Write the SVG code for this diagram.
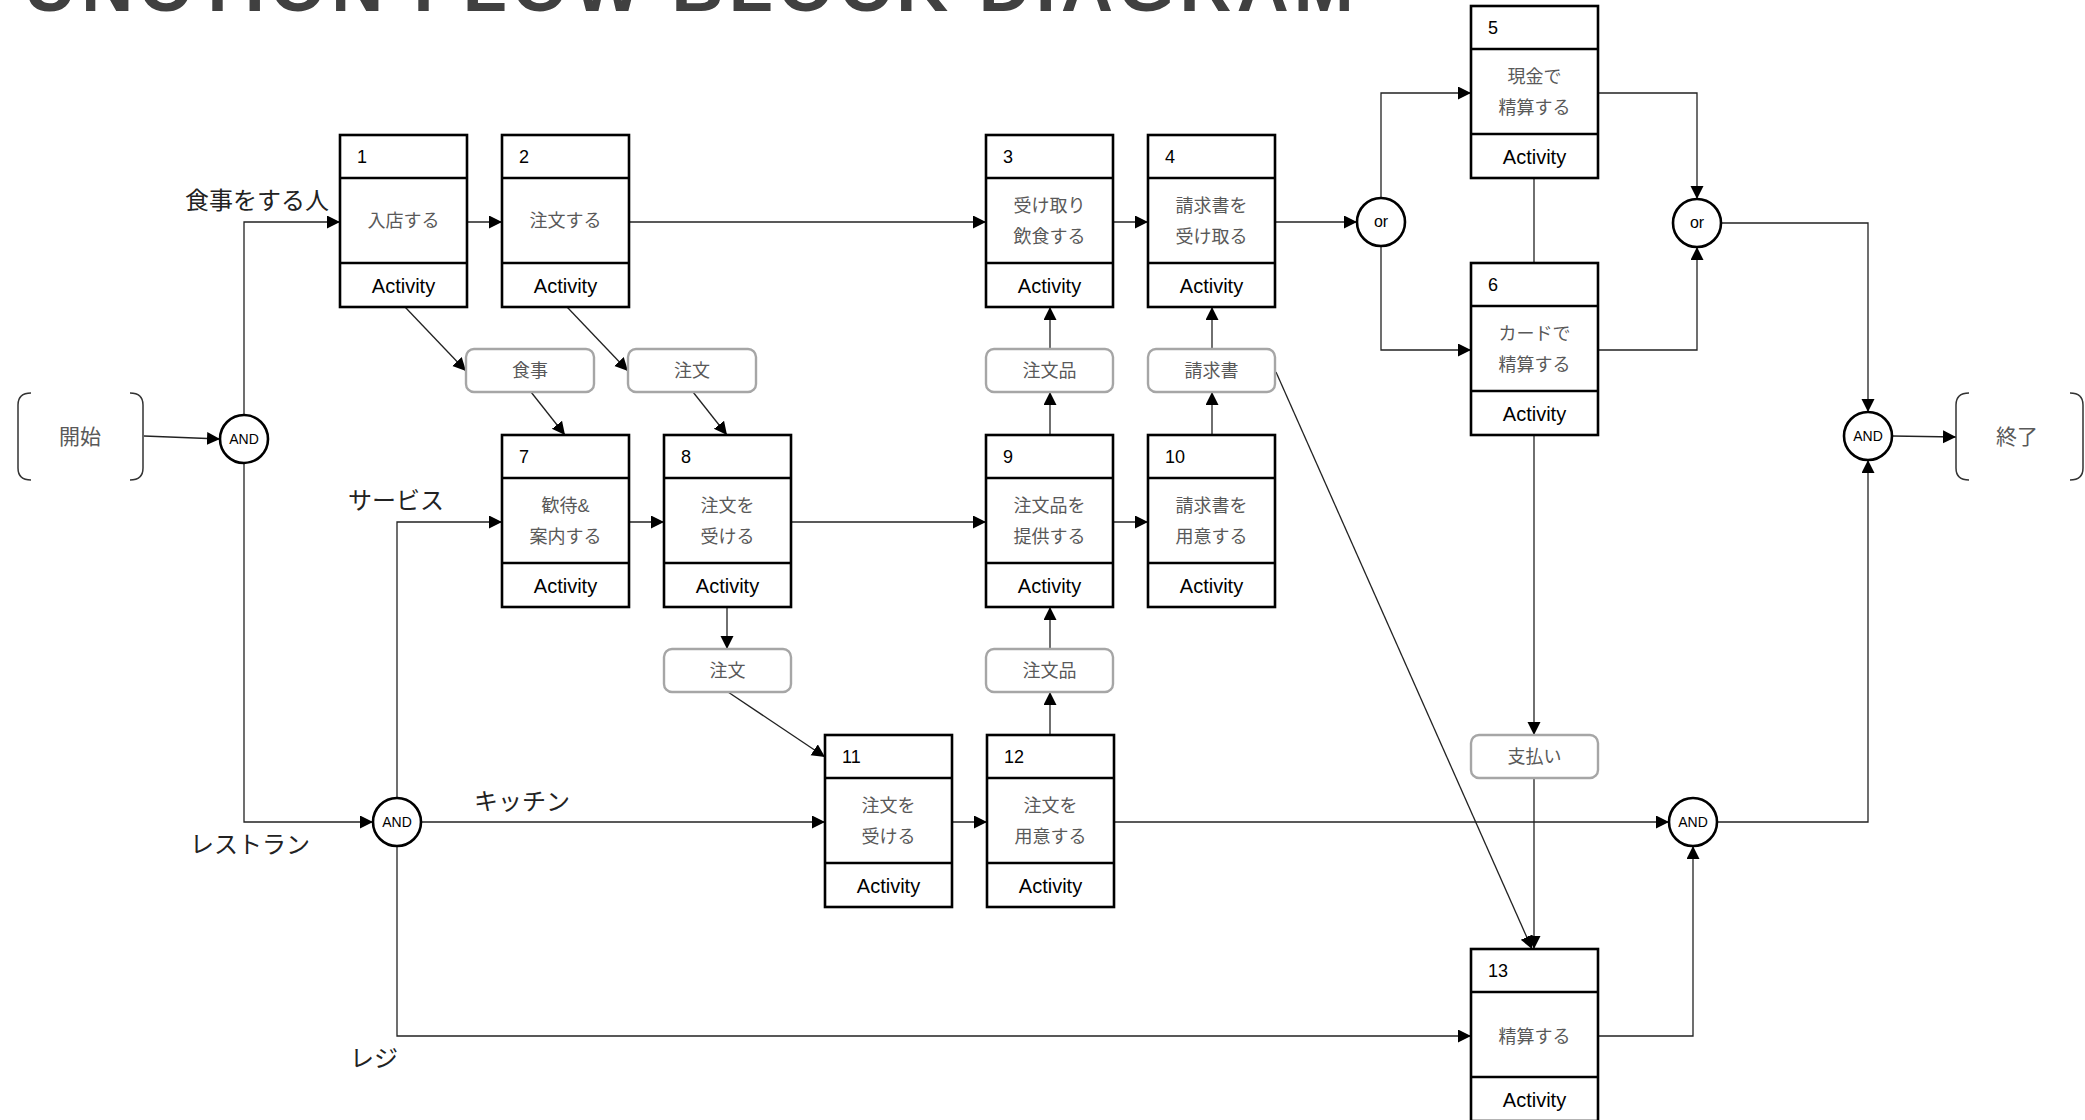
<svg xmlns="http://www.w3.org/2000/svg" width="2085" height="1120" viewBox="0 0 2085 1120">
<style>
text{font-family:"Liberation Sans","Noto Sans CJK JP",sans-serif}
.title{font-size:72px;font-weight:bold;fill:#404040;letter-spacing:5.2px}
.box{fill:#fff;stroke:#000;stroke-width:2.6}
.sep{stroke:#000;stroke-width:2.6}
.num{font-size:18px;fill:#000}
.body{font-size:18px;fill:#595959;text-anchor:middle}
.act{font-size:20px;fill:#000;text-anchor:middle}
.data{fill:#fff;stroke:#a6a6a6;stroke-width:2.4}
.gate{fill:#fff;stroke:#000;stroke-width:2.6}
.gt{font-size:14px;fill:#000;text-anchor:middle}
.lane{font-size:24px;fill:#222}
.term{fill:none;stroke:#333;stroke-width:1.5}
.tt{font-size:21px;fill:#595959;text-anchor:middle}
.c{fill:none;stroke:#222;stroke-width:1.3}
.a{marker-end:url(#ah)}
</style>
<defs>
<marker id="ah" markerUnits="userSpaceOnUse" markerWidth="14" markerHeight="14" refX="13" refY="6.5" orient="auto">
<path d="M0,0 L13,6.5 L0,13 z" fill="#000"/>
</marker>
</defs>
<rect width="2085" height="1120" fill="#fff"/>
<text class="title" x="24" y="11">UNCTION FLOW BLOCK DIAGRAM</text>

<g id="lanes">
<text class="lane" x="185" y="209">食事をする人</text>
<text class="lane" x="348" y="509">サービス</text>
<text class="lane" x="190" y="853">レストラン</text>
<text class="lane" x="474" y="810">キッチン</text>
<text class="lane" x="350" y="1067">レジ</text>
</g>

<g id="connectors">
<path class="c a" d="M144,436 L220,439"/>
<path class="c a" d="M244,415 V222 H340"/>
<path class="c a" d="M244,463 V822 H373"/>
<path class="c a" d="M397,798 V522 H502"/>
<path class="c a" d="M421,822 H825"/>
<path class="c a" d="M397,846 V1036 H1471"/>
<path class="c a" d="M467,222 H502"/>
<path class="c a" d="M629,222 H986"/>
<path class="c a" d="M1113,222 H1148"/>
<path class="c a" d="M1275,222 H1357"/>
<path class="c a" d="M1381,198 V93 H1471"/>
<path class="c a" d="M1381,246 V350 H1471"/>
<path class="c a" d="M1598,93 H1697 V199"/>
<path class="c a" d="M1598,350 H1697 V247"/>
<path class="c" d="M1534,178 V263"/>
<path class="c a" d="M1721,223 H1868 V412"/>
<path class="c a" d="M1892,436 L1956,437"/>
<path class="c a" d="M1534,435 V735"/>
<path class="c a" d="M1534,778 V949"/>
<path class="c a" d="M1276,372 L1532,949"/>
<path class="c a" d="M405,307 L466,371"/>
<path class="c a" d="M531,392 L565,435"/>
<path class="c a" d="M567,307 L628,371"/>
<path class="c a" d="M693,392 L727,435"/>
<path class="c a" d="M727,607 V649"/>
<path class="c a" d="M728,692 L825,757"/>
<path class="c a" d="M1050,735 V692"/>
<path class="c a" d="M1050,649 V607"/>
<path class="c a" d="M1050,435 V392"/>
<path class="c a" d="M1050,349 V307"/>
<path class="c a" d="M1212,435 V392"/>
<path class="c a" d="M1212,349 V307"/>
<path class="c a" d="M629,522 H664"/>
<path class="c a" d="M791,522 H986"/>
<path class="c a" d="M1113,522 H1148"/>
<path class="c a" d="M952,822 H987"/>
<path class="c a" d="M1114,822 H1669"/>
<path class="c a" d="M1598,1036 H1693 V846"/>
<path class="c a" d="M1717,822 H1868 V460"/>
</g>

<g id="start">
<path class="term" d="M31,393 Q18,393 18,405 V468 Q18,480 31,480"/>
<path class="term" d="M130,393 Q143,393 143,405 V468 Q143,480 130,480"/>
<text class="tt" x="80" y="444">開始</text>
</g>
<g id="end">
<path class="term" d="M1969,393 Q1956,393 1956,405 V468 Q1956,480 1969,480"/>
<path class="term" d="M2070,393 Q2083,393 2083,405 V468 Q2083,480 2070,480"/>
<text class="tt" x="2017" y="444">終了</text>
</g>

<g id="and1"><circle class="gate" cx="244" cy="439" r="24"/><text class="gt" x="244" y="444">AND</text></g>
<g id="and2"><circle class="gate" cx="397" cy="822" r="24"/><text class="gt" x="397" y="827">AND</text></g>
<g id="or1"><circle class="gate" cx="1381" cy="222" r="24"/><text class="gt" x="1381" y="227" style="font-size:16px">or</text></g>
<g id="or2"><circle class="gate" cx="1697" cy="223" r="24"/><text class="gt" x="1697" y="228" style="font-size:16px">or</text></g>
<g id="and3"><circle class="gate" cx="1868" cy="436" r="24"/><text class="gt" x="1868" y="441">AND</text></g>
<g id="and4"><circle class="gate" cx="1693" cy="822" r="24"/><text class="gt" x="1693" y="827">AND</text></g>

<g id="n1"><rect class="box" x="340" y="135" width="127" height="172"/><path class="sep" d="M340,178 H467 M340,263 H467"/><text class="num" x="357" y="163">1</text><text class="body" x="403.5" y="227">入店する</text><text class="act" x="403.5" y="293">Activity</text></g>
<g id="n2"><rect class="box" x="502" y="135" width="127" height="172"/><path class="sep" d="M502,178 H629 M502,263 H629"/><text class="num" x="519" y="163">2</text><text class="body" x="565.5" y="227">注文する</text><text class="act" x="565.5" y="293">Activity</text></g>
<g id="n3"><rect class="box" x="986" y="135" width="127" height="172"/><path class="sep" d="M986,178 H1113 M986,263 H1113"/><text class="num" x="1003" y="163">3</text><text class="body" x="1049.5" y="212">受け取り</text><text class="body" x="1049.5" y="243">飲食する</text><text class="act" x="1049.5" y="293">Activity</text></g>
<g id="n4"><rect class="box" x="1148" y="135" width="127" height="172"/><path class="sep" d="M1148,178 H1275 M1148,263 H1275"/><text class="num" x="1165" y="163">4</text><text class="body" x="1211.5" y="212">請求書を</text><text class="body" x="1211.5" y="243">受け取る</text><text class="act" x="1211.5" y="293">Activity</text></g>
<g id="n5"><rect class="box" x="1471" y="6" width="127" height="172"/><path class="sep" d="M1471,49 H1598 M1471,134 H1598"/><text class="num" x="1488" y="34">5</text><text class="body" x="1534.5" y="83">現金で</text><text class="body" x="1534.5" y="114">精算する</text><text class="act" x="1534.5" y="164">Activity</text></g>
<g id="n6"><rect class="box" x="1471" y="263" width="127" height="172"/><path class="sep" d="M1471,306 H1598 M1471,391 H1598"/><text class="num" x="1488" y="291">6</text><text class="body" x="1534.5" y="340">カードで</text><text class="body" x="1534.5" y="371">精算する</text><text class="act" x="1534.5" y="421">Activity</text></g>
<g id="n7"><rect class="box" x="502" y="435" width="127" height="172"/><path class="sep" d="M502,478 H629 M502,563 H629"/><text class="num" x="519" y="463">7</text><text class="body" x="565.5" y="512">歓待&amp;</text><text class="body" x="565.5" y="543">案内する</text><text class="act" x="565.5" y="593">Activity</text></g>
<g id="n8"><rect class="box" x="664" y="435" width="127" height="172"/><path class="sep" d="M664,478 H791 M664,563 H791"/><text class="num" x="681" y="463">8</text><text class="body" x="727.5" y="512">注文を</text><text class="body" x="727.5" y="543">受ける</text><text class="act" x="727.5" y="593">Activity</text></g>
<g id="n9"><rect class="box" x="986" y="435" width="127" height="172"/><path class="sep" d="M986,478 H1113 M986,563 H1113"/><text class="num" x="1003" y="463">9</text><text class="body" x="1049.5" y="512">注文品を</text><text class="body" x="1049.5" y="543">提供する</text><text class="act" x="1049.5" y="593">Activity</text></g>
<g id="n10"><rect class="box" x="1148" y="435" width="127" height="172"/><path class="sep" d="M1148,478 H1275 M1148,563 H1275"/><text class="num" x="1165" y="463">10</text><text class="body" x="1211.5" y="512">請求書を</text><text class="body" x="1211.5" y="543">用意する</text><text class="act" x="1211.5" y="593">Activity</text></g>
<g id="n11"><rect class="box" x="825" y="735" width="127" height="172"/><path class="sep" d="M825,778 H952 M825,863 H952"/><text class="num" x="842" y="763">11</text><text class="body" x="888.5" y="812">注文を</text><text class="body" x="888.5" y="843">受ける</text><text class="act" x="888.5" y="893">Activity</text></g>
<g id="n12"><rect class="box" x="987" y="735" width="127" height="172"/><path class="sep" d="M987,778 H1114 M987,863 H1114"/><text class="num" x="1004" y="763">12</text><text class="body" x="1050.5" y="812">注文を</text><text class="body" x="1050.5" y="843">用意する</text><text class="act" x="1050.5" y="893">Activity</text></g>
<g id="n13"><rect class="box" x="1471" y="949" width="127" height="172"/><path class="sep" d="M1471,992 H1598 M1471,1077 H1598"/><text class="num" x="1488" y="977">13</text><text class="body" x="1534.5" y="1043">精算する</text><text class="act" x="1534.5" y="1107">Activity</text></g>

<g id="d1"><rect class="data" x="466" y="349" width="128" height="43" rx="8"/><text class="body" x="530" y="377">食事</text></g>
<g id="d2"><rect class="data" x="628" y="349" width="128" height="43" rx="8"/><text class="body" x="692" y="377">注文</text></g>
<g id="d3"><rect class="data" x="986" y="349" width="127" height="43" rx="8"/><text class="body" x="1049.5" y="377">注文品</text></g>
<g id="d4"><rect class="data" x="1148" y="349" width="127" height="43" rx="8"/><text class="body" x="1211.5" y="377">請求書</text></g>
<g id="d5"><rect class="data" x="664" y="649" width="127" height="43" rx="8"/><text class="body" x="727.5" y="677">注文</text></g>
<g id="d6"><rect class="data" x="986" y="649" width="127" height="43" rx="8"/><text class="body" x="1049.5" y="677">注文品</text></g>
<g id="d7"><rect class="data" x="1471" y="735" width="127" height="43" rx="8"/><text class="body" x="1534.5" y="763">支払い</text></g>
</svg>
